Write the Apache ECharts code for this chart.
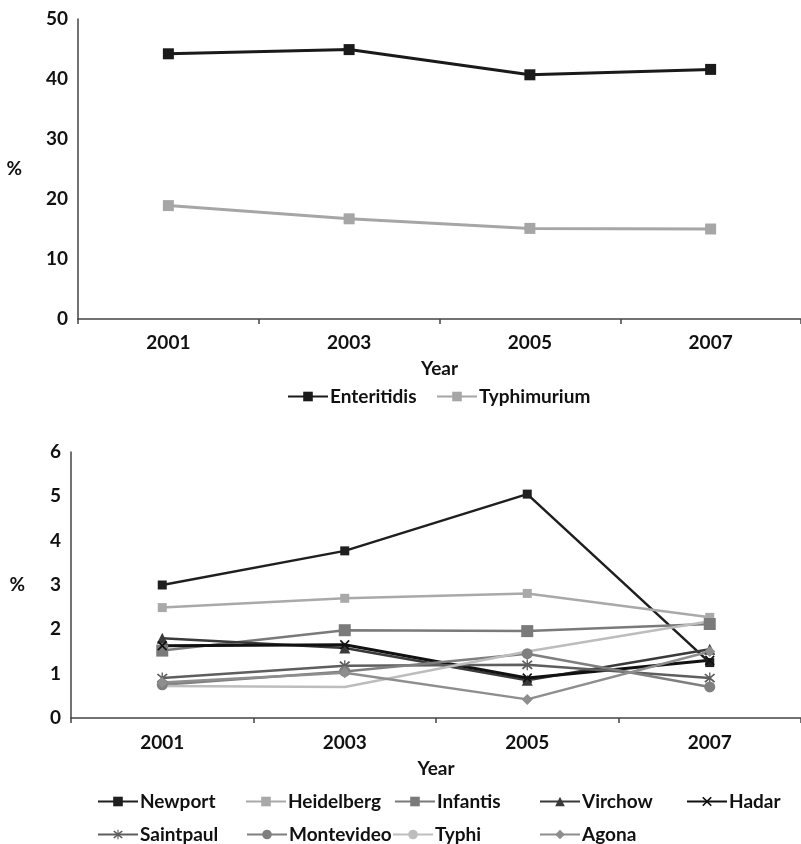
<!DOCTYPE html>
<html><head><meta charset="utf-8">
<script src="https://cdn.jsdelivr.net/npm/echarts@6/dist/echarts.min.js"></script>
<style>html,body{margin:0;padding:0;background:#fff}#c{width:801px;height:844px}</style>
</head><body><div id="c"></div>
<script>
const years = ['2001', '2003', '2005', '2007'];
const topTicks = [0, 10, 20, 30, 40, 50];
const bottomTicks = [0, 1, 2, 3, 4, 5, 6];

const enteritidis = [44.2, 44.9, 40.7, 41.6];
const typhimurium = [18.9, 16.7, 15.1, 15.0];

const newport    = [3.00, 3.77, 5.05, 1.25];
const heidelberg = [2.49, 2.70, 2.81, 2.27];
const infantis   = [1.52, 1.98, 1.96, 2.12];
const virchow    = [1.80, 1.58, 0.85, 1.55];
const hadar      = [1.63, 1.65, 0.90, 1.30];
const saintpaul  = [0.90, 1.18, 1.20, 0.90];
const montevideo = [0.75, 1.05, 1.45, 0.70];
const typhi      = [0.72, 0.70, 1.50, 2.18];
const agona      = [0.80, 1.02, 0.42, 1.50];

const FONT = 'Lato';
const FS = 19;
const X_PATH = 'path://M0,1.2L1.2,0L5,3.8L8.8,0L10,1.2L6.2,5L10,8.8L8.8,10L5,6.2L1.2,10L0,8.8L3.8,5Z';
const STAR_PATH = 'path://M0,1.2L1.2,0L5,3.8L8.8,0L10,1.2L6.2,5L10,8.8L8.8,10L5,6.2L1.2,10L0,8.8L3.8,5Z M4.4,-1L5.6,-1L5.6,11L4.4,11Z';

const chart = echarts.init(document.getElementById('c'), null, {renderer: 'canvas'});

const labelStyle = {fontFamily: FONT, fontWeight: 'bold', fontSize: FS, color: '#111'};
const axisLine = {show: true, lineStyle: {color: '#444', width: 1.5}};

function xAxis(gridIndex, margin, gap) {
  return {
    type: 'category', gridIndex, data: years, boundaryGap: true,
    axisLine, axisTick: {show: true, length: 5, lineStyle: {color: '#444', width: 1.5}},
    axisLabel: Object.assign({margin}, labelStyle),
    name: 'Year', nameLocation: 'middle', nameGap: gap,
    nameTextStyle: Object.assign({}, labelStyle)
  };
}
function yAxis(gridIndex, max, interval, gap) {
  return {
    type: 'value', gridIndex, min: 0, max, interval,
    axisLine, axisTick: {show: false}, splitLine: {show: false},
    axisLabel: Object.assign({margin: 10}, labelStyle),
    name: '%', nameLocation: 'middle', nameRotate: 0, nameGap: gap,
    nameTextStyle: Object.assign({}, labelStyle)
  };
}
function line(name, data, xi, color, symbol, size, width) {
  return {
    name, type: 'line', data, xAxisIndex: xi, yAxisIndex: xi,
    symbol, symbolSize: size, showSymbol: symbol !== 'none',
    lineStyle: {color, width}, itemStyle: {color},
    emphasis: {disabled: true}, animation: false
  };
}
function legend(name, left, top) {
  return {
    data: [name], left, top, orient: 'horizontal',
    itemWidth: 40, itemHeight: 12,
    textStyle: {fontFamily: FONT, fontWeight: 'bold', fontSize: FS, color: '#111', padding: [0, 0, 0, -3]},
    selectedMode: false
  };
}

chart.setOption({
  backgroundColor: '#fff',
  animation: false,
  grid: [
    {left: 78, top: 19, width: 732, height: 300},
    {left: 71, top: 452, width: 743, height: 266}
  ],
  xAxis: [xAxis(0, 14, 40), xAxis(1, 15, 41)],
  yAxis: [yAxis(0, 50, 10, 56), yAxis(1, 6, 1, 46)],
  legend: [
    legend('Enteritidis', 282, 382),
    legend('Typhimurium', 431, 382),
    legend('Newport', 92, 787),
    legend('Heidelberg', 240, 787),
    legend('Infantis', 389, 787),
    legend('Virchow', 534, 787),
    legend('Hadar', 681, 787),
    legend('Saintpaul', 92, 820),
    legend('Montevideo', 241, 820),
    legend('Typhi', 387, 820),
    legend('Agona', 534, 820)
  ],
  series: [
    line('Enteritidis', enteritidis, 0, '#1a1a1a', 'rect', 11, 3),
    line('Typhimurium', typhimurium, 0, '#a6a6a6', 'rect', 11, 3),
    line('Newport', newport, 1, '#1f1f1f', 'rect', 9, 2.5),
    line('Heidelberg', heidelberg, 1, '#a9a9a9', 'rect', 9, 2.5),
    line('Infantis', infantis, 1, '#7a7a7a', 'rect', 12, 2.5),
    line('Virchow', virchow, 1, '#3a3a3a', 'triangle', 11, 2.5),
    line('Hadar', hadar, 1, '#111111', X_PATH, 10, 3),
    line('Saintpaul', saintpaul, 1, '#5e5e5e', STAR_PATH, 11, 2.5),
    line('Montevideo', montevideo, 1, '#7f7f7f', 'circle', 11, 2.5),
    line('Typhi', typhi, 1, '#bdbdbd', 'none', 0, 2.5),
    line('Agona', agona, 1, '#8e8e8e', 'diamond', 11, 2.5)
  ]
});
</script></body></html>
